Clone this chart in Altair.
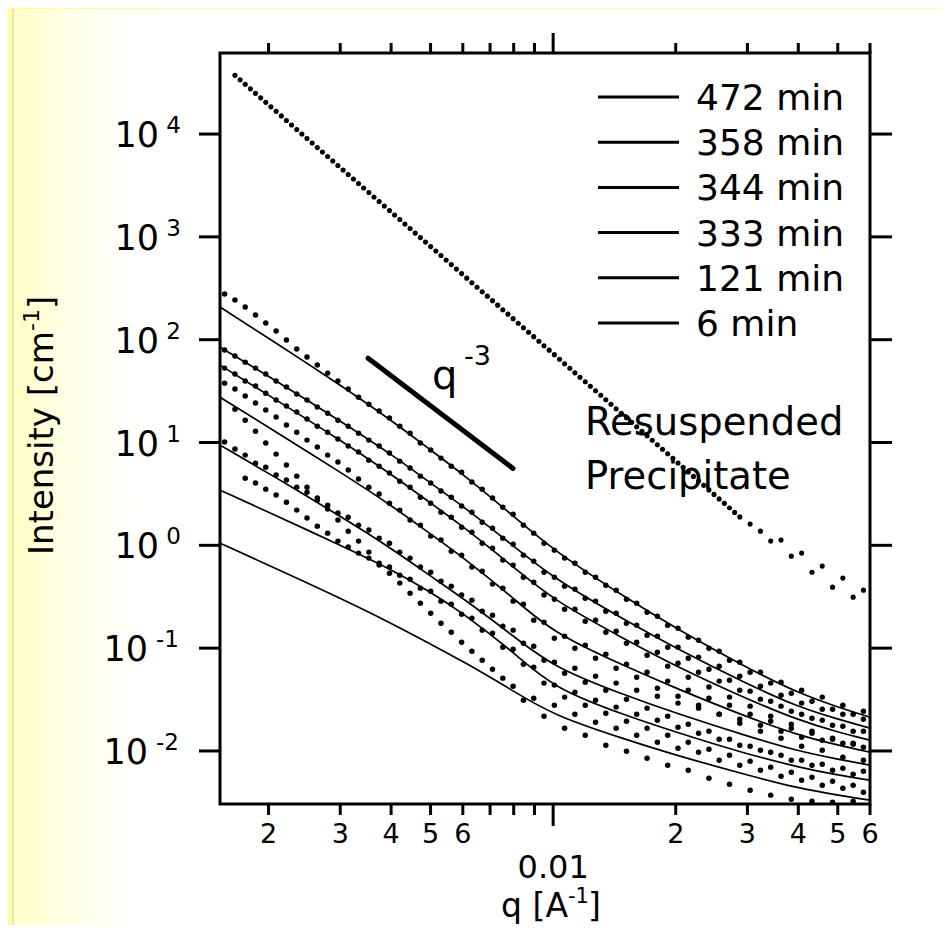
import altair as alt
import pandas as pd

FONT = "DejaVu Sans"
W, H = 650, 751

q_domain = [0.00152, 0.06]
i_domain = [0.00305, 61400]

y_ticks = [10000, 1000, 100, 10, 1, 0.1, 0.01]
y_pos_vals = [10000, 1000, 100, 10, 1]
y_pos_exp = ["4", "3", "2", "1", "0"]
y_neg_vals = [0.1, 0.01]
y_neg_exp = ["-1", "-2"]

x_minor = [0.002, 0.003, 0.004, 0.005, 0.006, 0.007, 0.008, 0.009,
           0.02, 0.03, 0.04, 0.05, 0.06]
x_major = [0.01]
x_lab_vals = [0.002, 0.003, 0.004, 0.005, 0.006, 0.02, 0.03, 0.04, 0.05, 0.06]
x_lab_txt = ["2", "3", "4", "5", "6", "2", "3", "4", "5", "6"]

legend_labels = ["472 min", "358 min", "344 min", "333 min", "121 min", "\u2007 6 min"]

# ---- resuspended precipitate (dots) ----
precip_q = [0.001654, 0.001703, 0.001753, 0.001805, 0.001858, 0.001913, 0.001969, 0.002027,
            0.002088, 0.00215, 0.002213, 0.002278, 0.002346, 0.002415, 0.002486, 0.002559,
            0.002635, 0.002713, 0.002794, 0.002876, 0.002961, 0.003049, 0.003139, 0.003232,
            0.003327, 0.003425, 0.003527, 0.003631, 0.003739, 0.003849, 0.003963, 0.00408,
            0.004201, 0.004325, 0.004453, 0.004584, 0.00472, 0.004859, 0.005003, 0.005151,
            0.005303, 0.00546, 0.005621, 0.005787, 0.005959, 0.006135, 0.006316, 0.006503,
            0.006695, 0.006893, 0.007097, 0.007307, 0.007523, 0.007745, 0.007974, 0.00821,
            0.008453, 0.008703, 0.00896, 0.009225, 0.009497, 0.009778, 0.01007, 0.01037,
            0.01067, 0.01099, 0.01131, 0.01164, 0.01199, 0.01234, 0.01271, 0.01309,
            0.01347, 0.01387, 0.01428, 0.0147, 0.01514, 0.01559, 0.01604, 0.01652,
            0.01701, 0.01751, 0.01803, 0.01856, 0.01911, 0.01968, 0.02026, 0.02086,
            0.02147, 0.02211, 0.02276, 0.02343, 0.02413, 0.02484, 0.02557, 0.02633,
            0.02711, 0.02791, 0.02873,
            0.03046, 0.03229, 0.03422, 0.03628, 0.03845, 0.04076, 0.04321, 0.0458,
            0.04855, 0.05146, 0.05455, 0.05782]
precip_I = [37240, 33670, 30450, 27520, 24880, 22500, 20340, 18390,
            16630, 15020, 13560, 12260, 11080, 10020, 9060, 8193,
            7408, 6698, 6056, 5475, 4950, 4475, 4046, 3658,
            3308, 2987, 2697, 2439, 2205, 1994, 1803, 1630,
            1473, 1332, 1204, 1088, 984, 889.7, 804.5, 727.5,
            657.8, 594.7, 537.6, 486.1, 439.5, 396.9, 358.4, 324.1,
            293.0, 265.0, 239.6, 216.6, 195.8, 177.1, 160.1, 144.7,
            130.8, 118.3, 107.0, 96.7, 87.4, 79.1, 71.5, 64.6,
            58.4, 52.7, 47.6, 43.06, 38.95, 35.22, 31.84, 28.79,
            26.03, 23.53, 21.27, 19.23, 17.39, 15.72, 14.21, 12.85,
            11.62, 10.51, 9.50, 8.59, 7.77, 7.01, 6.33, 5.73,
            5.18, 4.68, 4.23, 3.83, 3.46, 3.13, 2.83, 2.56,
            2.31, 2.09, 1.89,
            1.608, 1.374, 1.099, 1.124, 0.785, 0.840, 0.548, 0.628,
            0.392, 0.480, 0.3133, 0.3666]

# ---- measured data, shared q grid ----
data_q = [0.00156, 0.001654, 0.001753, 0.001858, 0.001969, 0.002088, 0.002213, 0.002346,
          0.002486, 0.002635, 0.002794, 0.002961, 0.003139, 0.003327, 0.003527, 0.003739,
          0.003963, 0.004201, 0.004453, 0.00472, 0.005003, 0.005303, 0.005621, 0.005959,
          0.006316, 0.006695, 0.007097, 0.007523, 0.007974, 0.008453, 0.00896, 0.009497,
          0.01007, 0.01067, 0.01131, 0.01199, 0.01271, 0.01347, 0.01428, 0.01514,
          0.01604, 0.01701, 0.01803, 0.01911, 0.02026, 0.02147, 0.02276, 0.02413,
          0.02557, 0.02711, 0.02873, 0.03046, 0.03229, 0.03422, 0.03628, 0.03845,
          0.04076, 0.04321, 0.0458, 0.04855, 0.05146, 0.05455, 0.05782]

d_472 = [278, 243, 208, 173.5, 145, 121.2, 99.1, 81.0, 67.7, 56.6, 47.3, 39.6, 33.1, 27.6,
         23.6, 20.2, 17.3, 14.4, 12.3, 9.87, 8.44, 7.05, 5.89, 5.15, 4.12, 3.52, 2.88, 2.35,
         2.01, 1.572, 1.314, 1.05, 0.898, 0.751, 0.671, 0.548, 0.490, 0.410, 0.3666, 0.2997,
         0.274, 0.224, 0.2048, 0.1674, 0.1565, 0.128, 0.1196, 0.1, 0.0935, 0.0764, 0.0731,
         0.0584, 0.0584, 0.0457, 0.0467, 0.0365, 0.039, 0.0305, 0.0334, 0.0255, 0.0279,
         0.0228, 0.0244]
d_358 = [79.2, 69.3, 60.5, 52.9, 46.3, 39.6, 34.6, 29.6, 25.9, 22.1, 19.3, 16.5, 14.4, 12.3,
         10.55, 9.23, 7.89, 6.59, 5.64, 4.71, 4.03, 3.37, 2.94, 2.41, 2.10, 1.68, 1.47, 1.175,
         1.027, 0.803, 0.702, 0.548, 0.490, 0.401, 0.375, 0.3064, 0.2866, 0.229, 0.219, 0.175,
         0.1674, 0.1338, 0.1308, 0.1023, 0.1023, 0.0799, 0.0818, 0.0625, 0.0668, 0.0488,
         0.0534, 0.0382, 0.0427, 0.0305, 0.0349, 0.0244, 0.0292, 0.0208, 0.0255, 0.0178,
         0.0228, 0.01558, 0.0204]
d_344 = [52.9, 46.3, 39.6, 35.4, 30.2, 25.9, 22.6, 19.8, 16.9, 14.4, 12.6, 10.8, 9.23, 8.07,
         6.74, 5.89, 5.04, 4.21, 3.68, 2.94, 2.57, 2.10, 1.88, 1.50, 1.344, 1.05, 0.939, 0.718,
         0.642, 0.490, 0.4385, 0.328, 0.2997, 0.2395, 0.2395, 0.183, 0.1873, 0.143, 0.1463,
         0.1118, 0.1144, 0.0855, 0.0914, 0.0668, 0.0715, 0.0522, 0.0584, 0.0418, 0.0478,
         0.0334, 0.039, 0.0273, 0.0319, 0.0218, 0.0273, 0.01823, 0.0228, 0.01558, 0.01994,
         0.01332, 0.01743, 0.01165, 0.01558]
d_333 = [37.8, 33.1, 28.3, 24.2, 20.7, 17.7, 14.8, 12.6, 10.55, 9.02, 7.54, 6.45, 5.39, 4.41,
         3.68, 3.15, 2.57, 2.20, 1.76, 1.572, 1.229, 1.124, 0.878, 0.803, 0.614, 0.561, 0.4195,
         0.3835, 0.2866, 0.268, 0.1873, 0.179, 0.1251, 0.1308, 0.1, 0.107, 0.0799, 0.0874,
         0.0639, 0.0699, 0.0522, 0.0584, 0.0408, 0.0478, 0.0341, 0.039, 0.0279, 0.0326,
         0.0228, 0.0279, 0.01864, 0.0228, 0.01558, 0.0195, 0.01332, 0.01667, 0.01113, 0.0149,
         0.01018, 0.01302, 0.0087, 0.0119, 0.00814]
d_121 = [10.09, 8.63, 7.54, 6.30, 5.76, 4.82, 4.31, 3.68, 3.29, 2.75, 2.46, 2.06, 1.88, 1.572,
         1.406, 1.175, 1.05, 0.859, 0.751, 0.614, 0.548, 0.4485, 0.401, 0.328, 0.293, 0.229,
         0.2094, 0.1637, 0.1497, 0.1118, 0.1046, 0.0764, 0.0731, 0.0571, 0.0639, 0.0467,
         0.0534, 0.039, 0.0457, 0.0319, 0.039, 0.0261, 0.0341, 0.0218, 0.0292, 0.01823,
         0.0261, 0.01558, 0.0228, 0.01302, 0.0204, 0.01113, 0.0178, 0.00973, 0.01558,
         0.00814, 0.01362, 0.00727, 0.01274, 0.0065, 0.0119, 0.00595, 0.01089]
d_6a = [4.50, 4.03, 3.52, 3.08, 2.63, 2.20, 1.84, 1.537, 1.314, 1.099, 0.961, 0.840, 0.751,
        0.642, 0.614, 0.513, 0.469, 0.3835, 0.3584, 0.2866, 0.268, 0.2141, 0.1957, 0.1497,
        0.140, 0.1023, 0.0978, 0.0699, 0.0653, 0.0457, 0.0437, 0.0334, 0.0373, 0.0279,
        0.0312, 0.0233, 0.0267, 0.0195, 0.0228, 0.01667, 0.01994, 0.01424, 0.01704, 0.01218,
        0.0149, 0.01041, 0.01302, 0.0091, 0.01139, 0.00796, 0.01018, 0.00696, 0.0091,
        0.00622, 0.00814, 0.00556, 0.00744, 0.00508, 0.0068, 0.00465, 0.00636]
d_6b = [21.1, 16.5, 12.9, 9.87, 7.71, 6.03, 4.71, 3.68, 2.88, 2.25, 1.76, 1.374, 1.099, 0.859,
        0.671, 0.5365, 0.429, 0.3428, 0.274, 0.219, 0.175, 0.143, 0.1144, 0.0935, 0.0764,
        0.0625, 0.0511, 0.0427, 0.0312, 0.0326, 0.0218, 0.0279, 0.01667, 0.0228, 0.01424,
        0.01906, 0.01139, 0.01667, 0.00996, 0.01424, 0.00851, 0.01218, 0.00727, 0.01064,
        0.0065, 0.00973, 0.00544, 0.00814, 0.00475, 0.00727, 0.00416, 0.0065, 0.00372,
        0.00569, 0.0034, 0.0052, 0.00325, 0.00465, 0.00318, 0.00435, 0.00325, 0.00397]

# ---- fitted curves (solid lines) ----
fit_q = [0.00152, 0.002, 0.003, 0.004, 0.005, 0.006, 0.008, 0.01, 0.015, 0.02,
         0.03, 0.04, 0.05, 0.06]
fit_472 = [207.5, 103.7, 36.2, 16.5, 8.43, 4.93, 1.92, 0.898, 0.313, 0.1565, 0.0639, 0.0365, 0.0267, 0.0213]
fit_358 = [84.7, 44.3, 16.2, 7.71, 4.03, 2.41, 0.982, 0.480, 0.1873, 0.1, 0.0447, 0.0267, 0.0204, 0.01667]
fit_344 = [56.6, 28.9, 10.55, 4.93, 2.57, 1.537, 0.614, 0.293, 0.1224, 0.0668, 0.0319, 0.01994, 0.01524, 0.01274]
fit_333 = [27.6, 14.1, 5.15, 2.46, 1.285, 0.768, 0.3064, 0.140, 0.0668, 0.0408, 0.0213, 0.01424, 0.01139, 0.00973]
fit_121 = [9.43, 5.04, 1.92, 0.939, 0.502, 0.3064, 0.1308, 0.0653, 0.0349, 0.0233, 0.01393, 0.00996, 0.00832, 0.00727]
fit_6a = [3.44, 2.10, 1.004, 0.587, 0.3505, 0.219, 0.0914, 0.0408, 0.0223, 0.01524, 0.0093, 0.00696, 0.00582, 0.0052]
fit_6b = [1.05, 0.642, 0.3064, 0.175, 0.1094, 0.0747, 0.0382, 0.0223, 0.01302, 0.0091, 0.00582, 0.00435, 0.00372, 0.00332]

guide_q = [0.003512, 0.00797]
guide_I = [66, 5.6]

xs = alt.Scale(type="log", domain=q_domain, nice=False)
ys = alt.Scale(type="log", domain=i_domain, nice=False)
X = lambda f: alt.X(f, scale=xs, axis=None)
Y = lambda f: alt.Y(f, scale=ys, axis=None)

one = pd.DataFrame({"a": [0]})

# background decorations
yellow_left = alt.Chart(one).mark_rect(color="#FFFF99").encode(
    x=alt.value(-212), x2=alt.value(-208), y=alt.value(-45), y2=alt.value(880))
yellow_top = alt.Chart(one).mark_rect(color="#FFFF99").encode(
    x=alt.value(-212), x2=alt.value(730), y=alt.value(-45), y2=alt.value(-44))
grad = alt.Chart(one).mark_rect(
    color=alt.Gradient(
        gradient="linear",
        stops=[alt.GradientStop(color="rgba(255,255,150,0.55)", offset=0),
               alt.GradientStop(color="rgba(255,255,190,0.3)", offset=0.45),
               alt.GradientStop(color="rgba(255,255,255,0)", offset=1)],
        x1=0, y1=0, x2=1, y2=0)
).encode(x=alt.value(-208), x2=alt.value(-50), y=alt.value(-44), y2=alt.value(880))
gray_line = alt.Chart(one).mark_rule(color="#e2e2bc", strokeWidth=2).encode(
    x=alt.value(-207), y=alt.value(-44), y2=alt.value(880))

# ticks
ydf = pd.DataFrame({"v": y_ticks})
left_ticks = alt.Chart(ydf).mark_rule(color="black", strokeWidth=3).encode(
    y=Y("v:Q"), x=alt.value(-21), x2=alt.value(0))
right_ticks = alt.Chart(ydf).mark_rule(color="black", strokeWidth=3).encode(
    y=Y("v:Q"), x=alt.value(W), x2=alt.value(W + 22))
xmin_df = pd.DataFrame({"v": x_minor})
xmaj_df = pd.DataFrame({"v": x_major})
bot_min = alt.Chart(xmin_df).mark_rule(color="black", strokeWidth=3).encode(
    x=X("v:Q"), y=alt.value(H), y2=alt.value(H + 11))
bot_maj = alt.Chart(xmaj_df).mark_rule(color="black", strokeWidth=3).encode(
    x=X("v:Q"), y=alt.value(H), y2=alt.value(H + 22))
top_min = alt.Chart(xmin_df).mark_rule(color="black", strokeWidth=3).encode(
    x=X("v:Q"), y=alt.value(0), y2=alt.value(-10))
top_maj = alt.Chart(xmaj_df).mark_rule(color="black", strokeWidth=3).encode(
    x=X("v:Q"), y=alt.value(0), y2=alt.value(-20))

# y tick labels
pos_df = pd.DataFrame({"v": y_pos_vals, "e": y_pos_exp})
neg_df = pd.DataFrame({"v": y_neg_vals, "e": y_neg_exp})
def ylab(df, xten, xexp):
    ten = alt.Chart(df).mark_text(font=FONT, fontSize=35, align="right", baseline="alphabetic",
                                  dy=13, color="black").encode(
        y=Y("v:Q"), x=alt.value(xten), text=alt.value("10"))
    ex = alt.Chart(df).mark_text(font=FONT, fontSize=23, align="right", baseline="alphabetic",
                                 dy=-1, color="black").encode(
        y=Y("v:Q"), x=alt.value(xexp), text="e:N")
    return [ten, ex]

ylabels = ylab(pos_df, -61, -39) + ylab(neg_df, -72, -41)

# x tick labels
xl_df = pd.DataFrame({"v": x_lab_vals, "t": x_lab_txt})
xlabels = alt.Chart(xl_df).mark_text(font=FONT, fontSize=27, align="center",
                                     baseline="alphabetic", color="black").encode(
    x=X("v:Q"), y=alt.value(790), text="t:N")
x01 = alt.Chart(xmaj_df).mark_text(font=FONT, fontSize=32, align="center",
                                   baseline="alphabetic", color="black").encode(
    x=X("v:Q"), y=alt.value(825), text=alt.value("0.01"))

def txt(s, x, y, size, align="left", angle=0, dy=0):
    return alt.Chart(one).mark_text(font=FONT, fontSize=size, align=align, baseline="alphabetic",
                                    angle=angle, dy=dy, color="black").encode(
        x=alt.value(x), y=alt.value(y), text=alt.value(s))

xtitle = [txt("q [A", 348, 864, 33, align="right"),
          txt("-1", 348, 850, 21),
          txt("]", 368, 864, 33)]
ytitle = [txt("Intensity [cm", -167, 502, 34, angle=270),
          txt("-1", -167, 278, 22, angle=270, dy=-14),
          txt("]", -167, 256, 34, angle=270)]

annot = [txt("q", 212, 336, 40),
         txt("-3", 244, 312, 27),
         txt("Resuspended", 365, 382, 38.5),
         txt("Precipitate", 365, 436, 38.5)]

legend_layers = []
for i, lab in enumerate(legend_labels):
    yy = 44 + 45.2 * i
    legend_layers.append(alt.Chart(one).mark_rule(color="black", strokeWidth=3).encode(
        x=alt.value(378), x2=alt.value(459), y=alt.value(yy)))
    legend_layers.append(txt(lab, 476, yy + 13, 36))

# fits
fit_rows = []
for name, vals in [("472", fit_472), ("358", fit_358), ("344", fit_344), ("333", fit_333),
                   ("121", fit_121), ("6a", fit_6a), ("6b", fit_6b)]:
    for q, v in zip(fit_q, vals):
        fit_rows.append({"s": name, "q": q, "I": v})
fits = alt.Chart(pd.DataFrame(fit_rows)).mark_line(
    color="black", strokeWidth=1.7, interpolate="basis").encode(
    x=X("q:Q"), y=Y("I:Q"), detail="s:N")

# measured points
pt_rows = []
for name, qs, vals in [("472", data_q, d_472), ("358", data_q, d_358), ("344", data_q, d_344),
                       ("333", data_q, d_333), ("121", data_q, d_121),
                       ("6a", data_q[2:], d_6a), ("6b", data_q[1:], d_6b)]:
    for q, v in zip(qs, vals):
        pt_rows.append({"s": name, "q": q, "I": v})
pts = alt.Chart(pd.DataFrame(pt_rows)).mark_circle(size=30, color="black", opacity=1).encode(
    x=X("q:Q"), y=Y("I:Q"))

prec = alt.Chart(pd.DataFrame({"q": precip_q, "I": precip_I})).mark_circle(
    size=26, color="black", opacity=1).encode(x=X("q:Q"), y=Y("I:Q"))

guide = alt.Chart(pd.DataFrame({"q": guide_q, "I": guide_I})).mark_line(
    color="black", strokeWidth=5, strokeCap="round").encode(x=X("q:Q"), y=Y("I:Q"))

layers = ([yellow_left, yellow_top, grad, gray_line, fits, pts, prec, guide,
           left_ticks, right_ticks, bot_min, bot_maj, top_min, top_maj, xlabels, x01]
          + ylabels + xtitle + ytitle + annot + legend_layers)

chart = alt.layer(*layers).properties(
    width=W, height=H,
    autosize=alt.AutoSizeParams(type="none"),
    padding={"left": 212, "top": 45, "right": 71, "bottom": 121},
    background="white",
).configure_view(stroke="black", strokeWidth=3)

chart.save("out.html", embed_options={"renderer": "svg", "actions": False})
